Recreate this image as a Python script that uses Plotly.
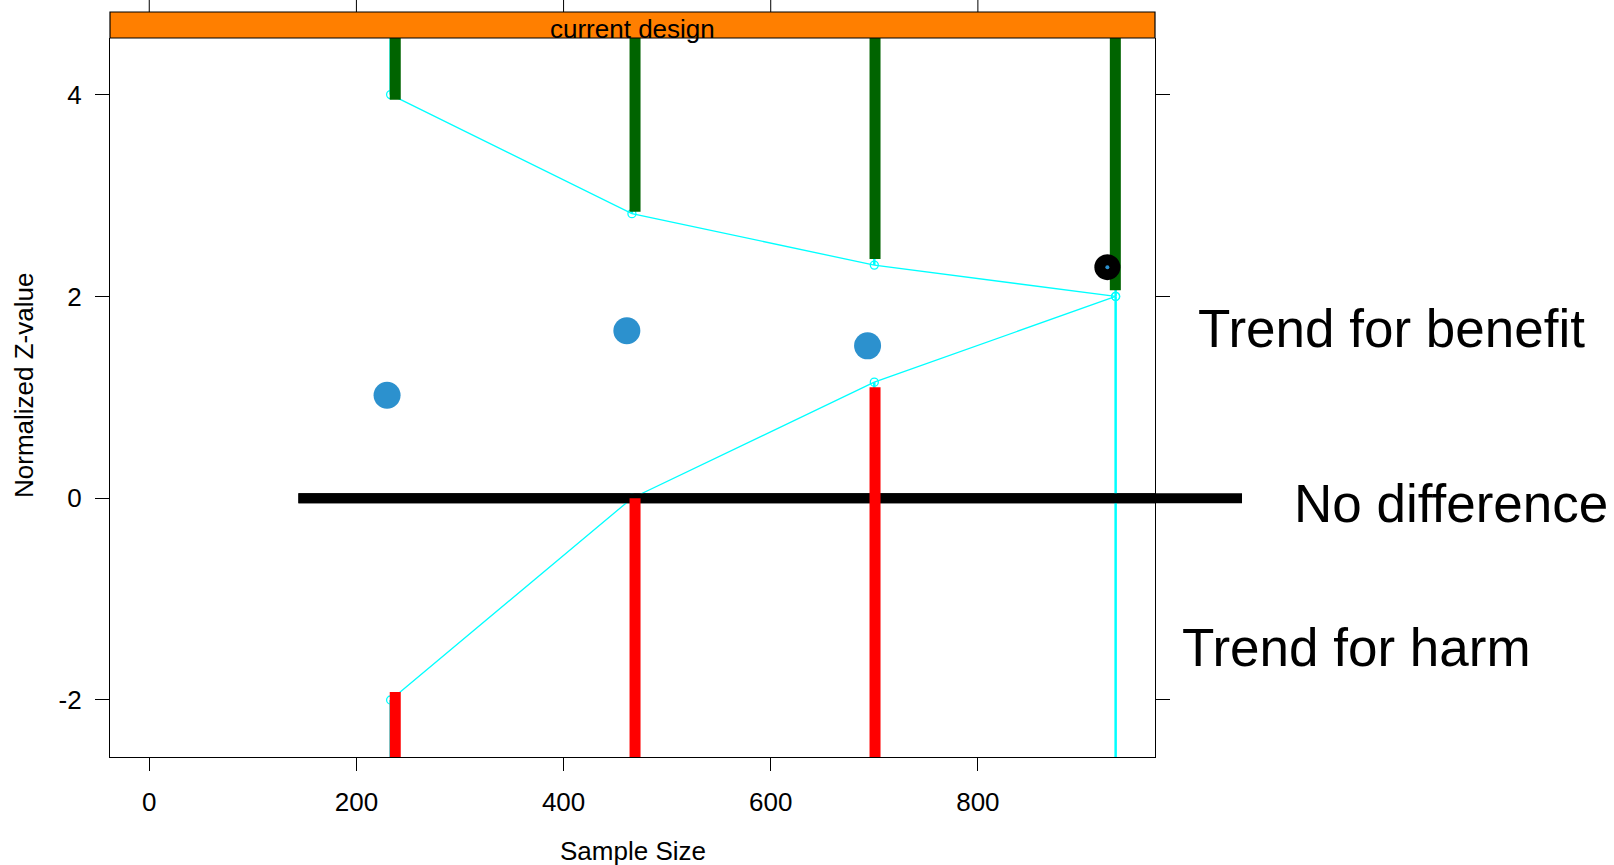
import plotly.graph_objects as go

# ---------------- data ----------------
stage_n = [233, 466, 700, 933]
upper_bound = [4.00, 2.82, 2.31, 2.00]
lower_bound = [-2.00, 0.00, 1.15, 2.00]

bar_n = [237.5, 469, 700.7, 932.7]
benefit_start = [3.95, 2.84, 2.37, 2.06]      # green bars run upward from here
harm_n = [237.5, 469, 700.7]
harm_end = [-1.92, 0.00, 1.10]                # red bars run downward from here

obs_n = [229.6, 461.1, 693.5]
obs_z = [1.02, 1.66, 1.51]

current_n = [925]
current_z = [2.29]

nodiff_n = [144, 1055]
nodiff_z = [0, 0]

x_ticks = [0, 200, 400, 600, 800]
y_ticks = [-2, 0, 2, 4]

X_RANGE = [-37.9, 971.0]
Y_RANGE = [-2.565, 4.561]

FONT = "Liberation Sans, Arial, sans-serif"
CYAN = "#00FFFF"
GREEN = "#006400"
RED = "#FF0000"
BLUE = "#2C91CE"
ORANGE = "#FF7F00"

# geometry of the page (pixels)
W, H = 1614, 865
L, R, T, B = 110, 459, 12, 108
PW, PH = W - L - R, H - T - B
PANEL_TOP_PX = 38
y_dom_top = (H - B - PANEL_TOP_PX) / PH


def px_x(px):
    return (px - L) / PW


def px_y(py):
    return (H - B - py) / PH


def paper_from_x(v):
    return (v - X_RANGE[0]) / (X_RANGE[1] - X_RANGE[0])


lo_edge = Y_RANGE[0] - 1
hi_edge = Y_RANGE[1] + 1

fig = go.Figure()

# cyan vertical drop lines from the boundaries to the panel edges
vx, vy = [], []
for n, lo, hi in zip(stage_n, lower_bound, upper_bound):
    vx += [n, n, None, n, n, None]
    vy += [lo, lo_edge, None, hi, hi_edge, None]
fig.add_trace(go.Scatter(x=vx, y=vy, mode="lines",
                         line=dict(color=CYAN, width=2.5),
                         hoverinfo="skip", showlegend=False))

# cyan boundaries
for yb in (upper_bound, lower_bound):
    fig.add_trace(go.Scatter(x=stage_n, y=yb, mode="lines+markers",
                             line=dict(color=CYAN, width=1.3),
                             marker=dict(symbol="circle-open", size=8,
                                         color=CYAN, line=dict(width=1.3)),
                             hoverinfo="skip", showlegend=False))

# black "no difference" line (in-panel part; outer part is a shape)
fig.add_trace(go.Scatter(x=nodiff_n, y=nodiff_z, mode="lines",
                         line=dict(color="black", width=10),
                         hoverinfo="skip", showlegend=False))

# green benefit bars
gx, gy = [], []
for n, s in zip(bar_n, benefit_start):
    gx += [n, n, None]
    gy += [s, hi_edge, None]
fig.add_trace(go.Scatter(x=gx, y=gy, mode="lines",
                         line=dict(color=GREEN, width=11),
                         hoverinfo="skip", showlegend=False))

# red harm bars
rx, ry = [], []
for n, e in zip(harm_n, harm_end):
    rx += [n, n, None]
    ry += [e, lo_edge, None]
fig.add_trace(go.Scatter(x=rx, y=ry, mode="lines",
                         line=dict(color=RED, width=11),
                         hoverinfo="skip", showlegend=False))

# observed z-values
fig.add_trace(go.Scatter(x=obs_n, y=obs_z, mode="markers",
                         marker=dict(color=BLUE, size=27),
                         hoverinfo="skip", showlegend=False))

# current look
fig.add_trace(go.Scatter(x=current_n, y=current_z, mode="markers",
                         marker=dict(color="black", size=26),
                         hoverinfo="skip", showlegend=False))
fig.add_trace(go.Scatter(x=current_n, y=current_z, mode="markers",
                         marker=dict(color=BLUE, size=4),
                         hoverinfo="skip", showlegend=False))

axis_font = dict(family=FONT, size=26, color="black")

fig.update_layout(
    width=W, height=H,
    margin=dict(l=L, r=R, t=T, b=B, pad=0, autoexpand=False),
    paper_bgcolor="white", plot_bgcolor="white",
    font=axis_font,
    showlegend=False,
    xaxis=dict(range=X_RANGE, tickvals=x_ticks,
               ticktext=[str(v) for v in x_ticks],
               ticks="outside", ticklen=13,
               tickwidth=1, tickcolor="black", showline=True, linecolor="black",
               linewidth=1.2, mirror=False, showgrid=False, zeroline=False,
               tickfont=axis_font, ticklabelstandoff=9, fixedrange=True,
               anchor="y"),
    yaxis=dict(range=Y_RANGE, domain=[0, y_dom_top], tickvals=y_ticks,
               ticktext=[str(v) for v in y_ticks],
               ticks="outside", ticklen=14, tickwidth=1, tickcolor="black",
               showline=True, linecolor="black", linewidth=1.2, mirror="ticks",
               showgrid=False, zeroline=False, tickfont=axis_font,
               ticklabelstandoff=8, fixedrange=True),
)

shapes = [
    # strip
    dict(type="rect", xref="paper", yref="paper", x0=0, x1=1,
         y0=y_dom_top, y1=1, fillcolor=ORANGE,
         line=dict(color="black", width=1.2), layer="above"),
    # full-length no-difference line (extends outside the panel)
    dict(type="line", xref="paper", yref="y",
         x0=paper_from_x(nodiff_n[0]), x1=paper_from_x(nodiff_n[1]),
         y0=nodiff_z[0], y1=nodiff_z[1],
         line=dict(color="black", width=10), layer="below"),
]
# top tick marks above the strip, at the x tick values
for v in x_ticks:
    shapes.append(dict(type="line", xref="x", yref="paper", x0=v, x1=v,
                       y0=1, y1=1 + 12 / PH,
                       line=dict(color="black", width=1), layer="above"))
fig.update_layout(shapes=shapes)

big = dict(family=FONT, size=53, color="black")
annotations = [
    dict(text="current design", xref="paper", yref="paper", x=0.5,
         y=px_y(29), xanchor="center", yanchor="middle", showarrow=False,
         font=axis_font),
    dict(text="Sample Size", xref="paper", yref="paper", x=0.5,
         y=px_y(851), xanchor="center", yanchor="middle", showarrow=False,
         font=axis_font),
    dict(text="Normalized Z-value", xref="paper", yref="paper", x=px_x(24),
         y=px_y(386), xanchor="center", yanchor="middle", textangle=-90,
         showarrow=False, font=axis_font),
    dict(text="Trend for benefit", xref="paper", yref="paper", x=px_x(1196),
         y=px_y(328), xanchor="left", yanchor="middle", showarrow=False,
         font=big),
    dict(text="No difference", xref="paper", yref="paper", x=px_x(1292),
         y=px_y(503), xanchor="left", yanchor="middle", showarrow=False,
         font=big),
    dict(text="Trend for harm", xref="paper", yref="paper", x=px_x(1180),
         y=px_y(647), xanchor="left", yanchor="middle", showarrow=False,
         font=big),
]
fig.update_layout(annotations=annotations)

fig.write_html("out.html", config={"displayModeBar": False})
